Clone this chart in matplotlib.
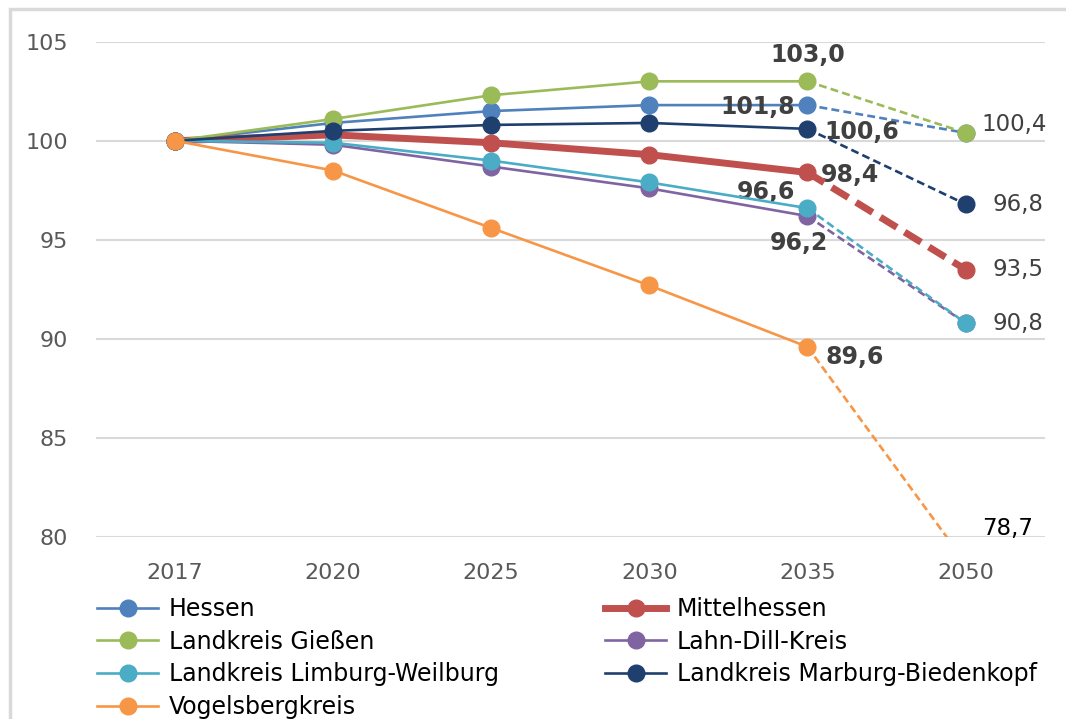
import matplotlib.pyplot as plt
from matplotlib.lines import Line2D
from matplotlib.patches import Rectangle

years = ['2017', '2020', '2025', '2030', '2035', '2050']

# series in the order of the source chart (later ones are drawn on top)
names = ['Hessen', 'Mittelhessen', 'Landkreis Gießen', 'Lahn-Dill-Kreis',
         'Landkreis Limburg-Weilburg', 'Landkreis Marburg-Biedenkopf', 'Vogelsbergkreis']
hessen = [100, 100.9, 101.5, 101.8, 101.8, 100.4]
mittelhessen = [100, 100.3, 99.9, 99.3, 98.4, 93.5]
giessen = [100, 101.1, 102.3, 103.0, 103.0, 100.4]
lahndill = [100, 99.8, 98.7, 97.6, 96.2, 90.8]
limburg = [100, 99.9, 99.0, 97.9, 96.6, 90.8]
marburg = [100, 100.5, 100.8, 100.9, 100.6, 96.8]
vogelsberg = [100, 98.5, 95.6, 92.7, 89.6, 78.7]
series = [hessen, mittelhessen, giessen, lahndill, limburg, marburg, vogelsberg]

colors = ['#4F81BD', '#C0504D', '#9BBB59', '#8064A2', '#4BACC6', '#1F3F6E', '#F79646']
widths = [1.9, 5, 1.9, 1.9, 1.9, 1.9, 1.9]

FONT = ['DejaVu Sans']

fig = plt.figure(figsize=(10.66, 7.19), dpi=100)
ax = fig.add_axes([0.090, 0.253, 0.890, 0.689])

x = list(range(len(years)))
for i, vals in enumerate(series):
    c = colors[i]
    lw = widths[i]
    z = 3 + i
    dash = (0, (3, 1.6)) if lw < 3 else (0, (2.8, 1.3))
    ax.plot(x[:5], vals[:5], color=c, lw=lw, marker='o', ms=12, zorder=z)
    ax.plot(x[4:], vals[4:], color=c, lw=lw, ls=dash, zorder=z)
    ax.plot(x[5], vals[5], color=c, marker='o', ms=12, ls='none', zorder=z)

ax.set_xlim(-0.5, 5.5)
ax.set_ylim(80, 105)
ax.set_yticks([80, 85, 90, 95, 100, 105])
ax.set_xticks(x)
ax.set_xticklabels(years)
ax.grid(axis='y', color='#D9D9D9', lw=1.5)
ax.set_axisbelow(True)
for s in ax.spines.values():
    s.set_visible(False)
ax.tick_params(length=0, labelsize=16, labelcolor='#595959')
ax.tick_params(axis='y', pad=20)
ax.tick_params(axis='x', pad=19)

# labels at 2035 (bold)
bold_kw = dict(fontsize=17, fontweight='bold', color='#404040', family=FONT,
               textcoords='offset pixels')
ax.annotate('103,0', (4, giessen[4]), xytext=(0, 26), ha='center', va='center', **bold_kw)
ax.annotate('101,8', (4, hessen[4]), xytext=(-12, -2), ha='right', va='center', **bold_kw)
ax.annotate('100,6', (4, marburg[4]), xytext=(17, -3), ha='left', va='center', **bold_kw)
ax.annotate('98,4', (4, mittelhessen[4]), xytext=(13, -3), ha='left', va='center', **bold_kw)
ax.annotate('96,6', (4, limburg[4]), xytext=(-12, 16), ha='right', va='center', **bold_kw)
ax.annotate('96,2', (4, lahndill[4]), xytext=(-9, -27), ha='center', va='center', **bold_kw)
ax.annotate('89,6', (4, vogelsberg[4]), xytext=(18, -10), ha='left', va='center', **bold_kw)

# labels at 2050
reg_kw = dict(fontsize=16.5, color='#404040', family=FONT, textcoords='offset pixels')
ax.annotate('100,4', (5, giessen[5]), xytext=(16, 8), ha='left', va='center', **reg_kw)
ax.annotate('96,8', (5, marburg[5]), xytext=(27, 0), ha='left', va='center', **reg_kw)
ax.annotate('93,5', (5, mittelhessen[5]), xytext=(27, 0), ha='left', va='center', **reg_kw)
ax.annotate('90,8', (5, limburg[5]), xytext=(27, 0), ha='left', va='center', **reg_kw)
ax.annotate('78,7', (5, 80), xytext=(17, 9), ha='left', va='center', color='black',
            fontsize=16.5, family=FONT, textcoords='offset pixels', annotation_clip=False)

# legend in two columns
handles = [Line2D([], [], color=colors[i], lw=widths[i], marker='o', ms=12) for i in range(len(names))]
left_idx = [0, 2, 4, 6]
right_idx = [1, 3, 5]
leg_kw = dict(frameon=False, borderpad=0, borderaxespad=0, handlelength=2.6, handletextpad=0.45,
              labelspacing=0.37, prop={'family': FONT, 'size': 17})
fig.legend([handles[i] for i in left_idx], [names[i] for i in left_idx],
           loc='upper left', bbox_to_anchor=(0.091, 0.170), **leg_kw)
fig.legend([handles[i] for i in right_idx], [names[i] for i in right_idx],
           loc='upper left', bbox_to_anchor=(0.5675, 0.170), **leg_kw)

# outer chart border
fig.patches.append(Rectangle((0.009, -0.1), 1.1, 1.087, transform=fig.transFigure,
                             fill=False, edgecolor='#D9D9D9', lw=2.5))

fig.savefig('out.png', dpi=100)
